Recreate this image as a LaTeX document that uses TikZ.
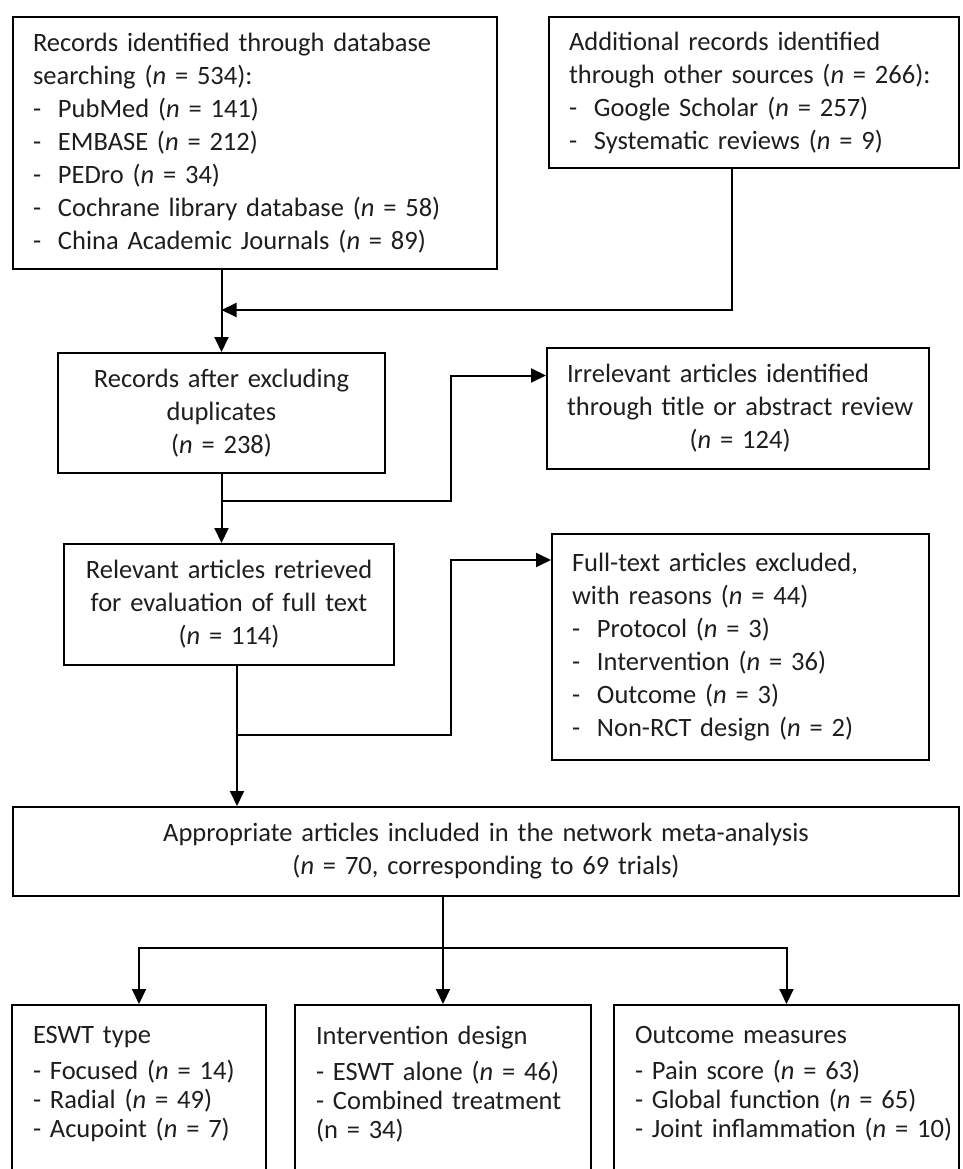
\documentclass[tikz,border=0pt]{standalone}
\usepackage{fontspec}
\setmainfont{Carlito}
\usepackage{tikz}
\usetikzlibrary{positioning}
\usetikzlibrary{arrows.meta}

\definecolor{inkgray}{HTML}{1E1E1E}
\newcommand{\nn}{\textit{n}}
\newcommand{\dashitem}[1]{\makebox[25pt][l]{-}#1}

\tikzset{
	flowbox/.style={draw=black, line width=2pt, anchor=north west, inner xsep=20pt, inner ysep=0pt, text=inkgray, font={\fontsize{26.5}{33}\selectfont}},
	leftbox/.style={flowbox, align=left},
	midbox/.style={flowbox, align=center},
	catbox/.style={flowbox, align=left, inner xsep=21pt, inner ysep=21pt, text depth=200pt, font={\fontsize{26.5}{29}\selectfont}},
	flowline/.style={line width=2pt},
	flowarrow/.style={flowline, -{Triangle[length=15pt,width=14pt]}},
}

\begin{document}
\begin{tikzpicture}[x=1pt, y=-1pt]
	
	\useasboundingbox (0,0) rectangle (962,1169);
	\clip (0,0) rectangle (962,1169);
	\fill[white] (0,0) rectangle (962,1169);
	
	% identification
	\node[leftbox, minimum width=484pt, text width=444pt, minimum height=252pt] (dbrec) at (12,16) {Records identified through database\\ searching (\nn{} = 534):\\ \dashitem{PubMed (\nn{} = 141)}\\ \dashitem{EMBASE (\nn{} = 212)}\\ \dashitem{PEDro (\nn{} = 34)}\\ \dashitem{Cochrane library database (\nn{} = 58)}\\ \dashitem{China Academic Journals (\nn{} = 89)}};
	\node[leftbox, minimum width=410pt, text width=370pt, minimum height=151pt] (othrec) at (548,16) {Additional records identified\\ \mbox{through other sources (\nn{} = 266):}\\ \dashitem{Google Scholar (\nn{} = 257)}\\ \dashitem{Systematic reviews (\nn{} = 9)}};
	
	% screening
	\node[midbox, minimum width=327pt, text width=287pt, minimum height=120pt] (dedup) at (57,352) {Records after excluding\\ duplicates\\ (\nn{} = 238)};
	\node[leftbox, minimum width=382pt, text width=342pt, minimum height=121pt] (irrel) at (546,347) {\begin{tabular}{@{}l@{}}Irrelevant articles identified\\ through title or abstract review\\ \multicolumn{1}{@{}c@{}}{(\nn{} = 124)}\end{tabular}};
	
	% eligibility
	\node[midbox, minimum width=330pt, text width=290pt, minimum height=121pt] (fulltxt) at (63,543) {Relevant articles retrieved\\ for evaluation of full text\\ (\nn{} = 114)};
	\node[leftbox, minimum width=377pt, text width=337pt, minimum height=226pt] (excl) at (551,533) {Full-text articles excluded,\\ with reasons (\nn{} = 44)\\ \dashitem{Protocol (\nn{} = 3)}\\ \dashitem{Intervention (\nn{} = 36)}\\ \dashitem{Outcome (\nn{} = 3)}\\ \dashitem{Non-RCT design (\nn{} = 2)}};
	
	% included
	\node[midbox, minimum width=946pt, text width=906pt, minimum height=89pt] (incl) at (12,806) {Appropriate articles included in the network meta-analysis\\ (\nn{} = 70, corresponding to 69 trials)};
	
	% categories (cut at the lower edge)
	\node[catbox, minimum width=254pt, text width=212pt] (eswt) at (11,1004) {ESWT type\\[7pt] - Focused (\nn{} = 14)\\ - Radial (\nn{} = 49)\\ - Acupoint (\nn{} = 7)};
	\node[catbox, minimum width=296pt, text width=254pt] (design) at (294,1004) {Intervention design\\[7pt] - ESWT alone (\nn{} = 46)\\ - Combined treatment\\ (n = 34)};
	\node[catbox, minimum width=345pt, text width=303pt] (outc) at (613,1004) {Outcome measures\\[7pt] \mbox{- Pain score (\nn{} = 63)}\\ \mbox{- Global function (\nn{} = 65)}\\ \mbox{- Joint inflammation (\nn{} = 10)}};
	
	% connectors
	\coordinate (merge) at (dedup.north |- 0,310);
	\draw[flowarrow] ([xshift=-22pt]othrec.south) |- (merge);
	\draw[flowarrow] (dedup.north |- dbrec.south) -- (dedup.north);
	
	\coordinate (scr) at (451,501);
	\draw[flowarrow] (dedup.south) -- (dedup.south |- fulltxt.north);
	\draw[flowarrow] (dedup.south |- scr) -- (scr) |- ([yshift=33pt]irrel.west);
	
	\coordinate (ftout) at ([xshift=8pt]fulltxt.south);
	\coordinate (elig) at (451,735);
	\draw[flowarrow] (ftout) -- (ftout |- incl.north);
	\draw[flowarrow] (ftout |- elig) -- (elig) |- ([yshift=87pt]excl.west);
	
	\coordinate (fork) at (design.north |- 0,948);
	\draw[flowline] (design.north |- incl.south) -- (fork);
	\draw[flowarrow] (fork) -- (design.north);
	\draw[flowarrow] (fork) -| (eswt.north);
	\draw[flowarrow] (fork) -| (outc.north);
	
\end{tikzpicture}
\end{document}
